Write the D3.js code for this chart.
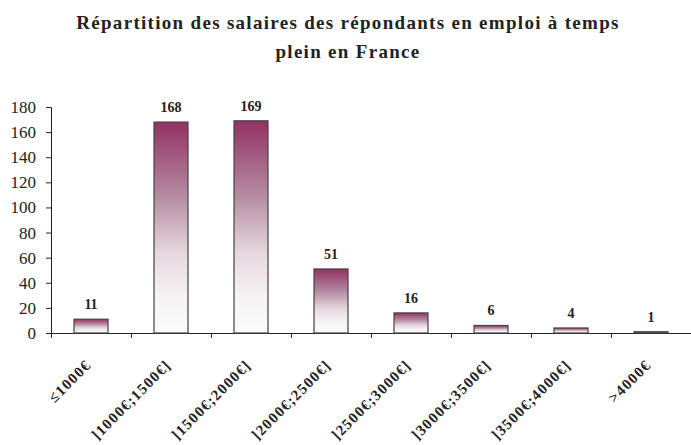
<!DOCTYPE html>
<html>
<head>
<meta charset="utf-8">
<script src="https://cdn.jsdelivr.net/npm/d3@7"></script>
<style>
  body { margin: 0; background: #fff; }
  svg { display: block; }
  svg text { font-family: "Liberation Serif", "Times New Roman", serif; }
</style>
</head>
<body>
<svg id="chart" width="691" height="445"></svg>
<script>
// données
const categories = ["≤1000€", "]1000€;1500€]", "]1500€;2000€]", "]2000€;2500€]",
                    "]2500€;3000€]", "]3000€;3500€]", "]3500€;4000€]", ">4000€"];
const effectifs = [11, 168, 169, 51, 16, 6, 4, 1];
const yTicks = [0, 20, 40, 60, 80, 100, 120, 140, 160, 180];
const titre = ["Répartition des salaires des répondants en emploi à temps", "plein en France"];

const svg = d3.select("#chart");
const margin = { left: 51, right: 0, top: 107, bottom: 112 };
const width = 691, height = 445;

// échelles
const x = d3.scaleBand()
    .domain(categories)
    .range([margin.left, width - margin.right])
    .paddingInner(0.575)
    .paddingOuter(0.2875);

const y = d3.scaleLinear()
    .domain([0, 180])
    .range([height - margin.bottom, margin.top]);

// dégradé des barres
const grad = svg.append("defs").append("linearGradient")
    .attr("id", "barGrad")
    .attr("x1", 0).attr("y1", 0)
    .attr("x2", 0).attr("y2", 1);
grad.append("stop").attr("offset", "0%").attr("stop-color", "#933163");
grad.append("stop").attr("offset", "35%").attr("stop-color", "#b48ba1");
grad.append("stop").attr("offset", "62%").attr("stop-color", "#e6d7de");
grad.append("stop").attr("offset", "82%").attr("stop-color", "#f5f2f4");
grad.append("stop").attr("offset", "100%").attr("stop-color", "#fcfcfc");

// titre
svg.append("text")
    .attr("text-anchor", "middle")
    .attr("font-weight", "bold")
    .attr("font-size", 19)
    .attr("letter-spacing", 1.3)
    .attr("fill", "#222")
    .selectAll("tspan")
    .data(titre)
    .join("tspan")
    .attr("x", 348)
    .attr("y", (d, i) => 29 + i * 29)
    .text(d => d);

// axe Y
svg.append("g")
    .attr("transform", `translate(${margin.left},0)`)
    .call(d3.axisLeft(y).tickValues(yTicks).tickSize(5).tickPadding(10))
    .call(g => g.selectAll("text")
        .style("font-family", "'Liberation Serif', 'Times New Roman', serif")
        .attr("font-size", 17).attr("fill", "#222"))
    .call(g => g.selectAll("line, path").attr("stroke", "#222"));

// axe X (graduations entre les catégories)
const xBounds = d3.scaleLinear().domain([0, categories.length]).range(x.range());
svg.append("g")
    .attr("transform", `translate(0,${y(0)})`)
    .call(d3.axisBottom(xBounds).ticks(categories.length).tickSize(5).tickSizeOuter(0).tickFormat(""))
    .call(g => g.selectAll("line, path").attr("stroke", "#222"));

// barres
svg.append("g")
    .selectAll("rect")
    .data(effectifs)
    .join("rect")
    .attr("x", (d, i) => x(categories[i]))
    .attr("y", d => y(d))
    .attr("width", x.bandwidth())
    .attr("height", d => y(0) - y(d))
    .attr("fill", "url(#barGrad)")
    .attr("stroke", "#444")
    .attr("stroke-width", 1.2);

// étiquettes de valeurs
svg.append("g")
    .selectAll("text")
    .data(effectifs)
    .join("text")
    .attr("x", (d, i) => x(categories[i]) + x.bandwidth() / 2)
    .attr("y", d => y(d) - 10)
    .attr("text-anchor", "middle")
    .attr("font-weight", "bold")
    .attr("font-size", 14)
    .attr("fill", "#222")
    .text(d => d);

// étiquettes des catégories
svg.append("g")
    .selectAll("text")
    .data(categories)
    .join("text")
    .attr("transform", d => `translate(${x(d) + x.bandwidth() / 2 + 1},${y(0) + 33}) rotate(-45)`)
    .attr("text-anchor", "end")
    .attr("font-weight", "bold")
    .attr("font-size", 15)
    .attr("letter-spacing", 1.2)
    .attr("fill", "#222")
    .text(d => d);
</script>
</body>
</html>
